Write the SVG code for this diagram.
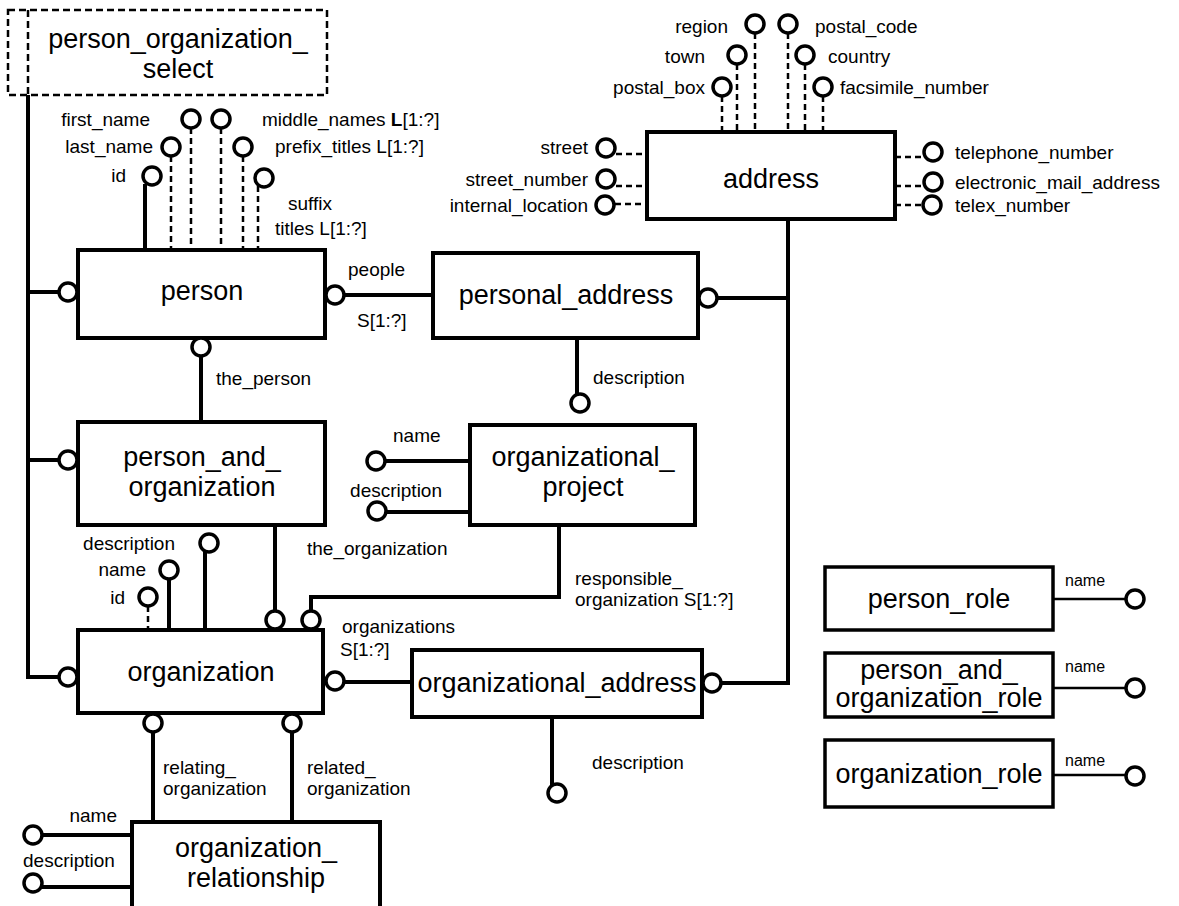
<svg xmlns="http://www.w3.org/2000/svg" width="1179" height="906" viewBox="0 0 1179 906">
<style>
.ent{fill:#fff;stroke:#000;stroke-width:4}
.role{fill:#fff;stroke:#000;stroke-width:3.5}
.sel{fill:none;stroke:#000;stroke-width:2.5;stroke-dasharray:7 4}
.rel{fill:none;stroke:#000;stroke-width:4}
.dash{fill:none;stroke:#000;stroke-width:2.5;stroke-dasharray:6 4}
.thin{fill:none;stroke:#000;stroke-width:2.5}
.c{fill:#fff;stroke:#000;stroke-width:3.5}
text{font-family:"Liberation Sans",Arial,Helvetica,sans-serif;fill:#000}
.t{font-size:27px;text-anchor:middle}
.l{font-size:19px}
.s{font-size:16px}
.e{text-anchor:end}
</style>
<rect width="1179" height="906" fill="#fff"/>
<g id="connectors">
  <!-- select bus -->
  <path class="rel" d="M28 95 V677 H59 M28 292 H59 M28 460 H59"/>
  <!-- person attributes -->
  <path class="rel" d="M145 184 V250"/>
  <path class="dash" d="M171 156 V250 M191 128 V250 M221 128 V250 M243 156 V250 M258 186 V250"/>
  <!-- person - personal_address -->
  <path class="rel" d="M344 295 H433"/>
  <!-- person - person_and_organization -->
  <path class="rel" d="M201 356 V422"/>
  <!-- personal_address - address bus -->
  <path class="rel" d="M717 298 H786 M788 219 V683 H721"/>
  <!-- personal_address description -->
  <path class="rel" d="M577 338 V395"/>
  <!-- organizational_project attrs -->
  <path class="rel" d="M385 461 H470 M385 512 H470"/>
  <!-- organizational_project responsible_organization -->
  <path class="rel" d="M559 525 V597 H311 V611"/>
  <!-- person_and_organization the_organization -->
  <path class="rel" d="M275 525 V611"/>
  <!-- organization attrs -->
  <path class="dash" d="M148 606 V630"/>
  <path class="rel" d="M169 579 V630 M205 551 V630"/>
  <!-- organization - organizational_address -->
  <path class="rel" d="M344 682 H412"/>
  <!-- organizational_address description -->
  <path class="rel" d="M552 717 V785"/>
  <!-- organization - organization_relationship -->
  <path class="rel" d="M153 732 V822 M292 732 V822"/>
  <!-- org relationship attrs -->
  <path class="rel" d="M42 835 H132 M42 887 H132"/>
  <!-- address attrs -->
  <path class="dash" d="M722 96 V132 M737 64 V132 M755 33 V132 M788 33 V132 M805 64 V132 M823 96 V132"/>
  <path class="dash" d="M616 154 H647 M616 186 H647 M615 204 H647 M895 157 H924 M895 186 H924 M895 205 H923"/>
  <!-- role name lines -->
  <path class="thin" d="M1053 599 H1126 M1053 688 H1126 M1053 775 H1126"/>
</g>

<g id="person_organization_select">
  <rect class="sel" x="8" y="10" width="319" height="85"/>
  <path class="sel" d="M28 10 V95"/>
  <text class="t" x="178" y="48">person_organization_</text>
  <text class="t" x="178" y="78">select</text>
</g>

<g id="person">
  <rect class="ent" x="78" y="250" width="247" height="88"/>
  <text class="t" x="202" y="300">person</text>
  <circle class="c" cx="68" cy="292" r="9"/>
  <circle class="c" cx="335" cy="295" r="9"/>
  <circle class="c" cx="201" cy="347" r="9"/>
  <circle class="c" cx="152" cy="176" r="9"/>
  <circle class="c" cx="171" cy="147" r="9"/>
  <circle class="c" cx="191" cy="119" r="9"/>
  <circle class="c" cx="221" cy="119" r="9"/>
  <circle class="c" cx="243" cy="147" r="9"/>
  <circle class="c" cx="264" cy="178" r="9"/>
  <text class="l e" x="150" y="126">first_name</text>
  <text class="l e" x="153" y="153">last_name</text>
  <text class="l e" x="126" y="182">id</text>
  <text class="l" x="262" y="126">middle_names <tspan font-weight="bold">L</tspan>[1:?]</text>
  <text class="l" x="275" y="153">prefix_titles L[1:?]</text>
  <text class="l" x="288" y="210">suffix</text>
  <text class="l" x="275" y="235">titles L[1:?]</text>
  <text class="l" x="348" y="276">people</text>
  <text class="l" x="357" y="327">S[1:?]</text>
  <text class="l" x="216" y="385">the_person</text>
</g>

<g id="personal_address">
  <rect class="ent" x="433" y="253" width="265" height="85"/>
  <text class="t" x="566" y="304">personal_address</text>
  <circle class="c" cx="708" cy="298" r="9"/>
  <circle class="c" cx="580" cy="403" r="9"/>
  <text class="l" x="593" y="384">description</text>
</g>

<g id="address">
  <rect class="ent" x="647" y="132" width="248" height="87"/>
  <text class="t" x="771" y="188">address</text>
  <circle class="c" cx="722" cy="87" r="9"/>
  <circle class="c" cx="737" cy="55" r="9"/>
  <circle class="c" cx="755" cy="24" r="9"/>
  <circle class="c" cx="788" cy="24" r="9"/>
  <circle class="c" cx="805" cy="55" r="9"/>
  <circle class="c" cx="823" cy="87" r="9"/>
  <circle class="c" cx="606" cy="148" r="9"/>
  <circle class="c" cx="606" cy="179" r="9"/>
  <circle class="c" cx="605" cy="205" r="9"/>
  <circle class="c" cx="933" cy="152" r="9"/>
  <circle class="c" cx="933" cy="182" r="9"/>
  <circle class="c" cx="932" cy="205" r="9"/>
  <text class="l e" x="728" y="33">region</text>
  <text class="l e" x="705" y="63">town</text>
  <text class="l e" x="705" y="94">postal_box</text>
  <text class="l" x="815" y="33">postal_code</text>
  <text class="l" x="828" y="63">country</text>
  <text class="l" x="840" y="94">facsimile_number</text>
  <text class="l e" x="588" y="154">street</text>
  <text class="l e" x="588" y="186">street_number</text>
  <text class="l e" x="588" y="212">internal_location</text>
  <text class="l" x="955" y="159">telephone_number</text>
  <text class="l" x="955" y="189">electronic_mail_address</text>
  <text class="l" x="955" y="212">telex_number</text>
</g>

<g id="person_and_organization">
  <rect class="ent" x="78" y="422" width="247" height="103"/>
  <text class="t" x="202" y="466">person_and_</text>
  <text class="t" x="202" y="496">organization</text>
  <circle class="c" cx="68" cy="460" r="9"/>
  <text class="l" x="307" y="555">the_organization</text>
</g>

<g id="organizational_project">
  <rect class="ent" x="470" y="425" width="225" height="100"/>
  <text class="t" x="583" y="466">organizational_</text>
  <text class="t" x="583" y="496">project</text>
  <circle class="c" cx="376" cy="461" r="9"/>
  <circle class="c" cx="377" cy="511" r="9"/>
  <text class="l" x="393" y="442">name</text>
  <text class="l e" x="442" y="497">description</text>
  <text class="l" x="575" y="585">responsible_</text>
  <text class="l" x="575" y="606">organization S[1:?]</text>
</g>

<g id="organization">
  <rect class="ent" x="78" y="630" width="245" height="83"/>
  <text class="t" x="201" y="681">organization</text>
  <circle class="c" cx="68" cy="677" r="9"/>
  <circle class="c" cx="335" cy="681" r="9"/>
  <circle class="c" cx="275" cy="620" r="9"/>
  <circle class="c" cx="311" cy="620" r="9"/>
  <circle class="c" cx="153" cy="723" r="9"/>
  <circle class="c" cx="292" cy="723" r="9"/>
  <circle class="c" cx="148" cy="597" r="9"/>
  <circle class="c" cx="169" cy="570" r="9"/>
  <circle class="c" cx="209" cy="543" r="9"/>
  <text class="l e" x="175" y="550">description</text>
  <text class="l e" x="146" y="576">name</text>
  <text class="l e" x="125" y="604">id</text>
  <text class="l" x="342" y="633">organizations</text>
  <text class="l" x="340" y="656">S[1:?]</text>
  <text class="l" x="163" y="774">relating_</text>
  <text class="l" x="163" y="795">organization</text>
  <text class="l" x="307" y="774">related_</text>
  <text class="l" x="307" y="795">organization</text>
</g>

<g id="organizational_address">
  <rect class="ent" x="412" y="650" width="290" height="67"/>
  <text class="t" x="557" y="692">organizational_address</text>
  <circle class="c" cx="712" cy="683" r="9"/>
  <circle class="c" cx="557" cy="793" r="9"/>
  <text class="l" x="592" y="769">description</text>
</g>

<g id="organization_relationship">
  <rect class="ent" x="132" y="822" width="248" height="100"/>
  <text class="t" x="256" y="857">organization_</text>
  <text class="t" x="256" y="887">relationship</text>
  <circle class="c" cx="33" cy="835" r="9"/>
  <circle class="c" cx="33" cy="883" r="9"/>
  <text class="l e" x="117" y="822">name</text>
  <text class="l" x="23" y="867">description</text>
</g>

<g id="person_role">
  <rect class="role" x="825" y="567" width="228" height="63"/>
  <text class="t" x="939" y="608">person_role</text>
  <circle class="c" cx="1135" cy="599" r="9"/>
  <text class="s" x="1065" y="586">name</text>
</g>

<g id="person_and_organization_role">
  <rect class="role" x="825" y="653" width="228" height="64"/>
  <text class="t" x="939" y="679">person_and_</text>
  <text class="t" x="939" y="707">organization_role</text>
  <circle class="c" cx="1135" cy="688" r="9"/>
  <text class="s" x="1065" y="672">name</text>
</g>

<g id="organization_role">
  <rect class="role" x="825" y="740" width="228" height="67"/>
  <text class="t" x="939" y="783">organization_role</text>
  <circle class="c" cx="1135" cy="776" r="9"/>
  <text class="s" x="1065" y="766">name</text>
</g>
</svg>
